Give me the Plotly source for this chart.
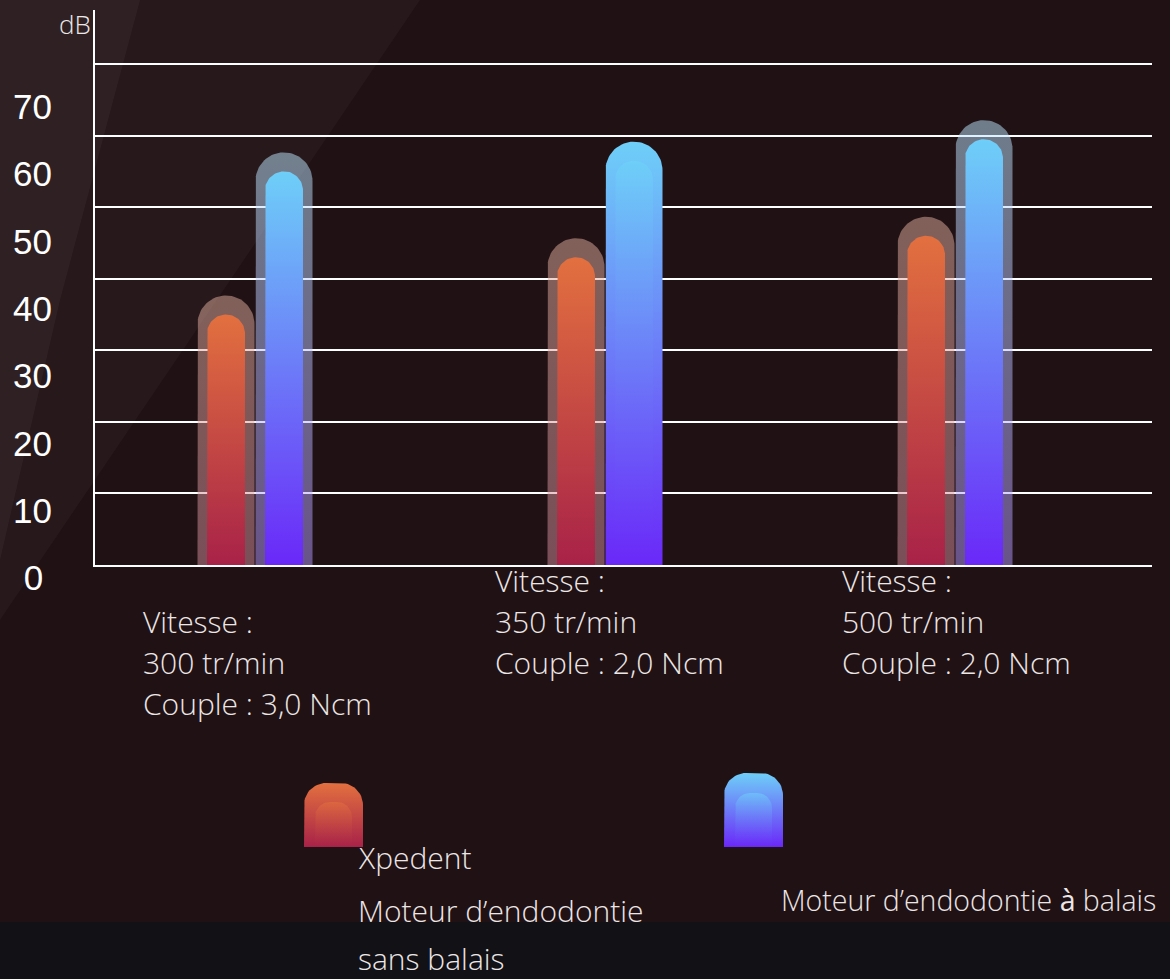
import numpy as np
import plotly.graph_objects as go

# ---------------- data ----------------
category_lines = [
    ["Vitesse :", "300 tr/min", "Couple : 3,0 Ncm"],
    ["Vitesse :", "350 tr/min", "Couple : 2,0 Ncm"],
    ["Vitesse :", "500 tr/min", "Couple : 2,0 Ncm"],
]
xpedent_db = [35, 43, 46]
balais_db = [55, 56.5, 59.5]
legend_xpedent = ["Xpedent", "Moteur d’endodontie", "sans balais"]
legend_balais = "Moteur d’endodontie <span style='font-weight:400'>à</span> balais"
y_ticks = [0, 10, 20, 30, 40, 50, 60, 70]
unit_label = "dB"

# ---------------- layout geometry (pixels) ----------------
W, H = 1170, 979
PX_L, PX_R = 95, 1152          # plot area left/right
PX_T, PX_B = 10, 565           # plot area top / zero line
PX_PER_UNIT_Y = 71.57 / 10     # gridline spacing per dB
GROUP0_PX, GROUP_STEP_PX = 255, 350

x_range = [(PX_L - GROUP0_PX) / GROUP_STEP_PX, (PX_R - GROUP0_PX) / GROUP_STEP_PX]
y_range = [0, (PX_B - PX_T) / PX_PER_UNIT_Y]
XS = GROUP_STEP_PX            # px per x unit
YS = PX_PER_UNIT_Y            # px per y unit

# label axis (tick labels are spaced differently from gridlines in the original)
LBL_ZERO_PX, LBL_STEP_PX = 578, 67.3 / 10
lbl_range = [(LBL_ZERO_PX - H) / LBL_STEP_PX, LBL_ZERO_PX / LBL_STEP_PX]
# labels are centred in the original: pad single-digit labels on the right
y_ticktext = [str(v) if v >= 10 else str(v) + "\u2005" for v in y_ticks]

BG = "#201114"
TXT = "#ece6e6"
FONT_LIGHT = "Open Sans"
TXT_SIZE = 30

RED_SCALE = [[0, "#a82248"], [1, "#e2703f"]]
BLUE_SCALE = [[0, "#6a28f8"], [1, "#6ecff8"]]
RED_GLOW = [[0, "rgba(212,140,156,0.5)"], [1, "rgba(228,176,160,0.5)"]]
BLUE_GLOW = [[0, "rgba(178,150,255,0.5)"], [1, "rgba(190,232,255,0.5)"]]


def arch_bar(cx, top, half_px, extra_px, n=40):
    """Polygon for a bar with a semicircular top, in data coordinates."""
    T = top + extra_px / YS
    Ts = T - half_px / YS
    xs = [cx - half_px / XS, cx - half_px / XS]
    ys = [0, Ts]
    for th in np.linspace(np.pi, 0, n):
        xs.append(cx + half_px * np.cos(th) / XS)
        ys.append(Ts + half_px * np.sin(th) / YS)
    xs += [cx + half_px / XS, cx - half_px / XS]
    ys += [0, 0]
    return xs, ys


def round_rect(x0, x1, y_top, y_bot, r, n=16):
    """Rounded-top rectangle in pixel coords (y down)."""
    xs, ys = [x0, x0], [y_bot, y_top + r]
    for th in np.linspace(np.pi, np.pi / 2, n):
        xs.append(x0 + r + r * np.cos(th)); ys.append(y_top + r - r * np.sin(th))
    for th in np.linspace(np.pi / 2, 0, n):
        xs.append(x1 - r + r * np.cos(th)); ys.append(y_top + r - r * np.sin(th))
    xs += [x1, x0]; ys += [y_bot, y_bot]
    return xs, ys


fig = go.Figure()

OFFSET_PX = 29
for i in range(len(category_lines)):
    for vals, off, scale, glow, glow_opaque in [
        (xpedent_db, -OFFSET_PX, RED_SCALE, RED_GLOW, False),
        (balais_db, OFFSET_PX, BLUE_SCALE, BLUE_GLOW, i == 1),
    ]:
        cx = i + off / XS
        gx, gy = arch_bar(cx, vals[i], 28.5, 19)
        fig.add_trace(go.Scatter(
            x=gx, y=gy, mode="lines", fill="toself", line=dict(width=0),
            fillgradient=dict(type="vertical", colorscale=scale if glow_opaque else glow),
            hoverinfo="skip", showlegend=False))
        bx, by = arch_bar(cx, vals[i], 19, 0)
        fig.add_trace(go.Scatter(
            x=bx, y=by, mode="lines", fill="toself", line=dict(width=0),
            fillgradient=dict(type="vertical", colorscale=scale),
            hoverinfo="skip", showlegend=False))

# legend icons in pixel overlay axes
for (x0, x1, yt, ixt, scale) in [(304, 363, 783, 802, RED_SCALE), (724, 783, 773, 793, BLUE_SCALE)]:
    ox, oy = round_rect(x0, x1, yt, 847, 22)
    fig.add_trace(go.Scatter(x=ox, y=oy, xaxis="x2", yaxis="y3", mode="lines", fill="toself",
                             line=dict(width=0), fillgradient=dict(type="vertical", colorscale=scale),
                             hoverinfo="skip", showlegend=False))
    ix, iy = round_rect(x0 + 11, x1 - 11, ixt, 847, 15)
    fig.add_trace(go.Scatter(x=ix, y=iy, xaxis="x2", yaxis="y3", mode="lines", fill="toself",
                             line=dict(width=0), fillgradient=dict(type="vertical", colorscale=scale),
                             opacity=0.6, hoverinfo="skip", showlegend=False))

# dummy trace so the label axis subplot exists
fig.add_trace(go.Scatter(x=[0], y=[0], xaxis="x2", yaxis="y2", mode="markers",
                         marker=dict(opacity=0), hoverinfo="skip", showlegend=False))

annotations = []
cat_pos = [(141, 621), (493, 580), (840, 580)]
for lines, (lx, ly) in zip(category_lines, cat_pos):
    for k, t in enumerate(lines):
        annotations.append(dict(text=t, x=lx / W, y=1 - (ly + 41 * k) / H, xref="paper", yref="paper",
                                xanchor="left", yanchor="middle", showarrow=False,
                                font=dict(family=FONT_LIGHT, size=TXT_SIZE, color=TXT, weight=300)))
legend_y = [857, 910, 958]
for t, ly in zip(legend_xpedent, legend_y):
    annotations.append(dict(text=t, x=356 / W, y=1 - ly / H, xref="paper", yref="paper",
                            xanchor="left", yanchor="middle", showarrow=False,
                            font=dict(family=FONT_LIGHT, size=TXT_SIZE, color=TXT, weight=300)))
annotations.append(dict(text=legend_balais, x=779 / W, y=1 - 900 / H, xref="paper", yref="paper",
                        xanchor="left", yanchor="middle", showarrow=False,
                        font=dict(family=FONT_LIGHT, size=28.5, color=TXT, weight=300)))
annotations.append(dict(text=unit_label, x=93 / W, y=1 - 24 / H, xref="paper", yref="paper",
                        xanchor="right", yanchor="middle", showarrow=False,
                        font=dict(family=FONT_LIGHT, size=26, color=TXT, weight=300)))

shapes = [
    dict(type="rect", xref="paper", yref="paper", x0=0, x1=1, y0=0, y1=1 - 922 / H,
         fillcolor="#111116", line=dict(width=0), layer="below"),
    dict(type="path", xref="paper", yref="paper",
         path=f"M 0 1 L {420 / W} 1 L 0 {1 - 620 / H} Z",
         fillcolor="rgba(255,255,255,0.03)", line=dict(width=0), layer="below"),
    dict(type="path", xref="paper", yref="paper",
         path=f"M 0 1 L {140 / W} 1 L {60 / W} {1 - 300 / H} L 0 {1 - 560 / H} Z",
         fillcolor="rgba(255,255,255,0.04)", line=dict(width=0), layer="below"),
]

fig.update_layout(
    width=W, height=H, margin=dict(l=0, r=0, t=0, b=0),
    paper_bgcolor=BG, plot_bgcolor="rgba(0,0,0,0)",
    showlegend=False, annotations=annotations, shapes=shapes,
    xaxis=dict(domain=[PX_L / W, PX_R / W], range=x_range, showgrid=False, zeroline=False,
               showticklabels=False, ticks="", showline=True, linecolor="white", linewidth=2,
               fixedrange=True),
    yaxis=dict(domain=[1 - PX_B / H, 1 - PX_T / H], range=y_range, tickvals=y_ticks,
               showticklabels=False, ticks="", showgrid=True, gridcolor="white", gridwidth=2,
               zeroline=False, showline=True, linecolor="white", linewidth=2, fixedrange=True),
    xaxis2=dict(domain=[0, 1], range=[0, W], visible=False, anchor="y3", fixedrange=True),
    yaxis3=dict(domain=[0, 1], range=[H, 0], visible=False, anchor="x2", fixedrange=True),
    yaxis2=dict(domain=[0, 1], range=lbl_range, tickvals=y_ticks, ticktext=y_ticktext,
                anchor="free", position=52 / W,
                side="left", showgrid=False, zeroline=False, showline=False, ticks="",
                tickfont=dict(family="Liberation Sans", size=35, color="white"), fixedrange=True),
)

fig.write_html("out.html", config={"displayModeBar": False},
               post_script="document.body.style.margin='0';document.body.style.background='#201114';")
